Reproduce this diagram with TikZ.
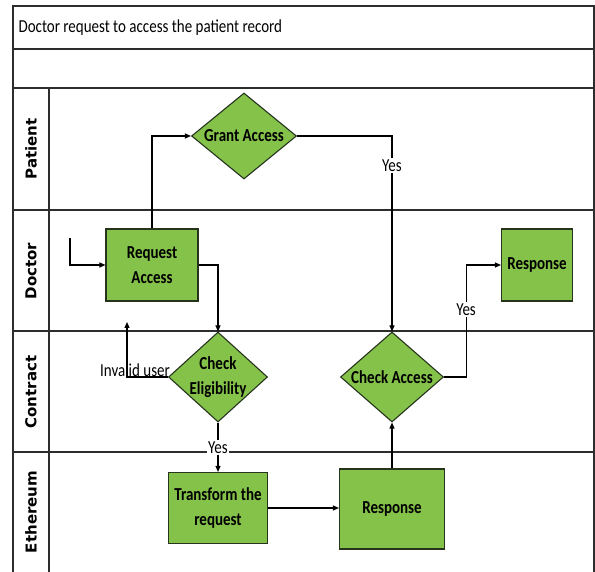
\documentclass[tikz,border=0pt]{standalone}
\usepackage{fontspec}
\usepackage{graphicx}
\setmainfont{Carlito}
\newfontfamily\lanefont{DejaVu Sans}
\usetikzlibrary{shapes.geometric,arrows.meta}
\definecolor{boxgreen}{RGB}{132,194,74}
\definecolor{boxedge}{RGB}{38,52,30}
\definecolor{laneline}{RGB}{45,45,45}
% taller, narrow-looking lettering
\newcommand\tallword[1]{\scalebox{1}[1.22]{#1}}
\begin{document}
\begin{tikzpicture}[x=1pt,y=-1pt,
  lane/.style={draw=laneline,line width=1.4pt},
  stepbox/.style={rectangle,draw=boxedge,fill=boxgreen,line width=1.1pt,
    align=center,font=\fontsize{15}{25}\selectfont\bfseries,inner sep=2pt},
  decision/.style={diamond,draw=boxedge,fill=boxgreen,line width=1.1pt,inner sep=0pt},
  dtext/.style={align=center,font=\fontsize{15}{25}\selectfont\bfseries},
  arr/.style={draw=black,line width=1.1pt,-{Triangle[length=6pt,width=5pt]}},
  yeslabel/.style={fill=white,inner sep=1.5pt,font=\fontsize{15}{18}\selectfont},
  lanelabel/.style={rotate=90,font=\lanefont\bfseries\fontsize{15}{18}\selectfont}]
\useasboundingbox (0,0) rectangle (595,572);
\fill[white] (0,0) rectangle (595,572);

% outer frame, title row and empty header row
\draw[lane] (13,572) -- (13,6) -- (594,6) -- (594,572);
\draw[lane] (13,49) -- (594,49);
\draw[lane] (13,88) -- (594,88);
% swimlane separators and label column
\draw[lane] (13,210) -- (594,210);
\draw[lane] (13,331) -- (594,331);
\draw[lane] (13,452) -- (594,452);
\draw[lane] (49,88) -- (49,572);

\node[anchor=west,font=\fontsize{15}{18}\selectfont] (title) at (15,28) {\tallword{Doctor request to access the patient record}};

% lane names
\node[lanelabel] (lpatient) at (31,149) {Patient};
\node[lanelabel] (ldoctor) at (31,271) {Doctor};
\node[lanelabel] (lcontract) at (31,392) {Contract};
\node[lanelabel] (lethereum) at (31,512) {Ethereum};

% process steps
\node[stepbox,minimum width=92pt,minimum height=72pt] (req) at (152,265) {\tallword{Request}\\\tallword{Access}};
\node[stepbox,minimum width=71pt,minimum height=72pt] (resp1) at (537,265) {\tallword{Response}};
\node[stepbox,minimum width=99pt,minimum height=71pt] (trans) at (218,508) {\tallword{Transform the}\\\tallword{request}};
\node[stepbox,minimum width=105pt,minimum height=80pt] (resp2) at (392,509) {\tallword{Response}};

% decisions
\node[decision,minimum width=105pt,minimum height=86pt,
  label={[dtext]center:\tallword{Grant Access}}] (grant) at (244,136) {};
\node[decision,minimum width=99pt,minimum height=90pt,
  label={[dtext]center:\tallword{Check}\\\tallword{Eligibility}}] (elig) at (218,377) {};
\node[decision,minimum width=103pt,minimum height=90pt,
  label={[dtext]center:\tallword{Check Access}}] (chk) at (392,377) {};

% connectors
\coordinate (start) at (70,238);
\coordinate (invalid) at (127,322);
\draw[arr] (start) |- (req.west);
\draw[arr] (req.north) |- (grant.west);
\draw[arr] (req.east) -| (elig.north);
\draw[arr] (grant.east) -| node[yeslabel,pos=0.575] (yes1) {\tallword{Yes}} (chk.north);
\draw[arr] (elig.west) -| (invalid);
\node[font=\fontsize{15}{18}\selectfont] (invtext) at (135,370) {\tallword{Invalid user}};
\draw[arr] (elig.south) -- node[yeslabel,pos=0.5] (yes2) {\tallword{Yes}} (trans.north);
\draw[arr] (trans.east) -- (trans.east -| resp2.west);
\draw[arr] (resp2.north) -- (chk.south);
\draw[arr] (chk.east) -- ++(22,0) |- node[yeslabel,pos=0.3] (yes3) {\tallword{Yes}} (resp1.west);
\end{tikzpicture}
\end{document}
